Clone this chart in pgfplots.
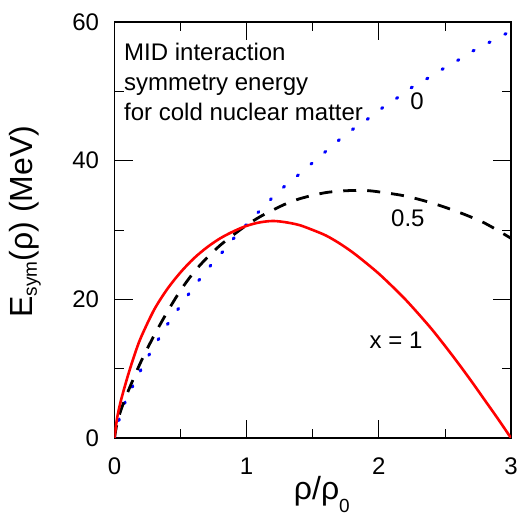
\documentclass[border=0pt]{standalone}
\usepackage{fontspec}
\setmainfont{Liberation Sans}
\usepackage{pgfplots}
\pgfplotsset{compat=1.18}

\newcommand{\lblfont}{\fontsize{24bp}{30bp}\selectfont}
\newcommand{\axfont}{\fontsize{32bp}{36bp}\selectfont}
\newcommand{\subfont}{\fontsize{19bp}{19bp}\selectfont}

\begin{document}
\begin{tikzpicture}
\begin{axis}[
  name=ax,
  scale only axis,
  width=396.5bp, height=416bp,
  xmin=0, xmax=3, ymin=0, ymax=60,
  xtick={0,1,2,3}, ytick={0,20,40,60},
  minor xtick={0.5,1.5,2.5}, minor ytick={10,30,50},
  tick align=inside,
  major tick length=18bp, minor tick length=9bp,
  tick style={black, line width=0.8bp},
  axis line style={line width=1.2bp},
  ticklabel style={font=\lblfont},
  /pgf/number format/assume math mode=true,
  xticklabel style={yshift=-16bp},
  yticklabel style={xshift=-12bp},
  xlabel={ρ/ρ\raisebox{-0.4em}{\subfont 0}},
  xlabel style={font=\axfont, at={(axis description cs:0.523,-0.149)}, anchor=base},
  ylabel={E\raisebox{-4bp}{\subfont sym}(ρ) (MeV)},
  ylabel style={font=\axfont, at={(axis description cs:-0.225,0.52)}, anchor=center},
]
% x = 0
\addplot[blue, line width=3bp, line cap=round, dash pattern=on 1.5bp off 16.5bp, smooth] coordinates {
  (0,0) (0.03,2.3) (0.066,4.5) (0.12,6.8) (0.18,9.1) (0.24,11.3) (0.31,13.5)
  (0.38,15.8) (0.46,18.0) (0.54,20.2) (0.625,22.4) (0.715,24.6) (0.82,26.9)
  (0.92,29.2) (1.03,31.4) (1.14,33.6) (1.25,35.7) (1.37,37.6) (1.48,39.4)
  (1.59,41.2) (1.70,43.0) (1.815,44.7) (1.93,46.2) (2.04,47.8) (2.15,49.2)
  (2.26,50.7) (2.38,52.0) (2.49,53.3) (2.60,54.5) (2.71,55.8) (2.82,56.9)
  (2.94,58.1) (3.0,58.7)
};
% x = 0.5
\addplot[black, line width=2.8bp, dash pattern=on 13bp off 11bp, smooth] coordinates {
  (0,0) (0.02,2.2) (0.05,4.1) (0.1,6.6) (0.2,11.0) (0.3,14.8) (0.4,18.2)
  (0.5,21.3) (0.6,23.9) (0.7,26.0) (0.8,27.8) (0.9,29.3) (1.0,30.7)
  (1.1,31.9) (1.2,32.9) (1.3,33.8) (1.4,34.5) (1.5,35.0) (1.6,35.4)
  (1.7,35.6) (1.8,35.7) (1.9,35.7) (2.0,35.5) (2.2,34.9) (2.4,33.9)
  (2.6,32.6) (2.8,31.0) (3.0,28.8)
};
% x = 1
\addplot[red, line width=2.6bp, smooth] coordinates {
  (0,0) (0.02,2.9) (0.05,5.5) (0.1,8.9) (0.15,11.9) (0.2,14.5) (0.3,18.5)
  (0.4,21.5) (0.5,23.9) (0.6,25.9) (0.7,27.5) (0.8,28.8) (0.9,29.8)
  (1.0,30.6) (1.1,31.1) (1.2,31.3) (1.3,31.1) (1.4,30.7) (1.5,30.0)
  (1.6,29.2) (1.7,28.1) (1.8,26.8) (1.9,25.3) (2.0,23.7) (2.1,21.9)
  (2.2,20.0) (2.3,17.9) (2.4,15.7) (2.5,13.3) (2.6,10.8) (2.7,8.2)
  (2.8,5.5) (2.9,2.8) (3.0,0)
};
\node[font=\lblfont, anchor=base west, inner sep=0pt] at (axis cs:0.072,54.39) {MID interaction};
\node[font=\lblfont, anchor=base west, inner sep=0pt] at (axis cs:0.072,50.07) {symmetry energy};
\node[font=\lblfont, anchor=base west, inner sep=0pt] at (axis cs:0.072,45.76) {for cold nuclear matter};
\node[font=\lblfont] at (axis cs:2.29,48.6) {0};
\node[font=\lblfont] at (axis cs:2.22,31.7) {0.5};
\node[font=\lblfont] at (axis cs:2.13,14.1) {x = 1};
\end{axis}
\pgfresetboundingbox
\path ([xshift=-114.5bp,yshift=-78bp]ax.south west) rectangle ([xshift=9bp,yshift=22bp]ax.north east);
\end{tikzpicture}
\end{document}
